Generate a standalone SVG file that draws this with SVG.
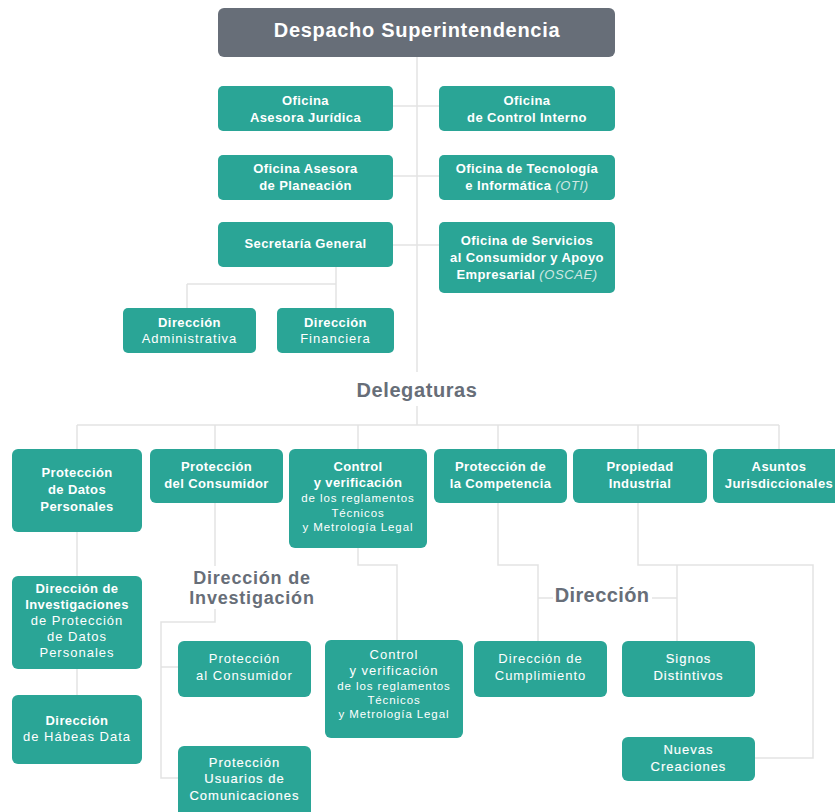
<svg xmlns="http://www.w3.org/2000/svg" width="835" height="812" viewBox="0 0 835 812">
<style>
.bg{fill:#ffffff}
.box{fill:#2aa596}
.top{fill:#676e78}
.ln{fill:none;stroke:#e3e3e3;stroke-width:1.5}
text{font-family:"Liberation Sans",Arial,sans-serif;fill:#ffffff;text-anchor:middle}
.b{font-size:13px;font-weight:700;letter-spacing:0.4px}
.r{font-size:13px;font-weight:400;letter-spacing:1px}
.rs{font-size:11.5px;font-weight:400;letter-spacing:0.9px}
.med{stroke:#ffffff;stroke-width:0.15px}
.it{font-style:italic;font-weight:400;fill:#cfe8e3;letter-spacing:0.6px}
.title{font-size:20px;font-weight:700;letter-spacing:0.7px}
.hd{font-size:20px;font-weight:700;fill:#676e78}
.hd2{font-size:18px;font-weight:700;fill:#676e78;letter-spacing:0.8px}
</style>
<rect class="bg" x="0" y="0" width="835" height="812"/>
<g id="connectors">
<path class="ln" d="M417 57V372M417 406V425"/>
<path class="ln" d="M393 106H439M393 176H439M393 245H439"/>
<path class="ln" d="M336 267V284M187 284H336M187 284V308M336 284V308"/>
<path class="ln" d="M77 425H779M77 425V449M215 425V449M358 425V449M498 425V449M638 425V449M779 425V449"/>
<path class="ln" d="M77 532V576M77 669V695"/>
<path class="ln" d="M215 503V566M215 609V622H161V778H178M161 667H178"/>
<path class="ln" d="M358 548V565H397V640"/>
<path class="ln" d="M498 503V565H538V641M538 598H553M652 598H677"/>
<path class="ln" d="M638 503V565H813V758H755M677 565V641"/>
</g>
<g id="despacho"><rect class="top" x="218" y="8" width="397" height="49" rx="6"/><text class="title" x="417" y="37">Despacho Superintendencia</text></g>
<g id="asesora-juridica"><rect class="box" x="218" y="86" width="175" height="45" rx="5"/><text class="b" x="305.5" y="105">Oficina</text><text class="b" x="305.5" y="122">Asesora Jurídica</text></g>
<g id="control-interno"><rect class="box" x="439" y="86" width="176" height="45" rx="5"/><text class="b" x="527" y="105">Oficina</text><text class="b" x="527" y="122">de Control Interno</text></g>
<g id="planeacion"><rect class="box" x="218" y="155" width="175" height="45" rx="5"/><text class="b" x="305.5" y="173">Oficina Asesora</text><text class="b" x="305.5" y="190">de Planeación</text></g>
<g id="tecnologia"><rect class="box" x="439" y="155" width="176" height="45" rx="5"/><text class="b" x="527" y="173">Oficina de Tecnología</text><text class="b" x="527" y="190">e Informática <tspan class="it">(OTI)</tspan></text></g>
<g id="secretaria"><rect class="box" x="218" y="222" width="175" height="45" rx="5"/><text class="b" x="305.5" y="248">Secretaría General</text></g>
<g id="servicios"><rect class="box" x="439" y="222" width="176" height="71" rx="5"/><text class="b" x="527" y="245">Oficina de Servicios</text><text class="b" x="527" y="262">al Consumidor y Apoyo</text><text class="b" x="527" y="279">Empresarial <tspan class="it">(OSCAE)</tspan></text></g>
<g id="dir-administrativa"><rect class="box" x="123" y="308" width="133" height="45" rx="5"/><text class="b" x="189.5" y="327">Dirección</text><text class="r" x="189.5" y="343">Administrativa</text></g>
<g id="dir-financiera"><rect class="box" x="277" y="308" width="117" height="45" rx="5"/><text class="b" x="335.5" y="327">Dirección</text><text class="r" x="335.5" y="343">Financiera</text></g>
<g id="delegaturas"><text class="hd" x="417" y="397" style="letter-spacing:0.6px">Delegaturas</text></g>
<g id="datos-personales"><rect class="box" x="12" y="449" width="130" height="83" rx="6"/><text class="b" x="77" y="477">Protección</text><text class="b" x="77" y="494">de Datos</text><text class="b" x="77" y="511">Personales</text></g>
<g id="consumidor"><rect class="box" x="150" y="449" width="133" height="54" rx="6"/><text class="b" x="216.5" y="471">Protección</text><text class="b" x="216.5" y="488">del Consumidor</text></g>
<g id="control"><rect class="box" x="289" y="449" width="138" height="99" rx="6"/><text class="b" x="358" y="471">Control</text><text class="b" x="358" y="487">y verificación</text><text class="rs" x="358" y="502">de los reglamentos</text><text class="rs" x="358" y="517">Técnicos</text><text class="rs" x="358" y="531">y Metrología Legal</text></g>
<g id="competencia"><rect class="box" x="434" y="449" width="133" height="54" rx="6"/><text class="b" x="500.5" y="471">Protección de</text><text class="b" x="500.5" y="488">la Competencia</text></g>
<g id="propiedad"><rect class="box" x="573" y="449" width="134" height="54" rx="6"/><text class="b" x="640" y="471">Propiedad</text><text class="b" x="640" y="488">Industrial</text></g>
<g id="jurisdiccionales"><rect class="box" x="713" y="449" width="132" height="54" rx="6"/><text class="b" x="779" y="471">Asuntos</text><text class="b" x="779" y="488">Jurisdiccionales</text></g>
<g id="dir-investigaciones"><rect class="box" x="12" y="576" width="130" height="93" rx="6"/><text class="b" x="77" y="593">Dirección de</text><text class="b" x="77" y="609">Investigaciones</text><text class="r" x="77" y="625">de Protección</text><text class="r" x="77" y="641">de Datos</text><text class="r" x="77" y="657">Personales</text></g>
<g id="habeas"><rect class="box" x="12" y="695" width="130" height="69" rx="6"/><text class="b" x="77" y="725">Dirección</text><text class="r" x="77" y="741">de Hábeas Data</text></g>
<g id="dir-investigacion-label"><text class="hd2" x="252" y="584">Dirección de</text><text class="hd2" x="252" y="604">Investigación</text></g>
<g id="proteccion-al-consumidor"><rect class="box" x="178" y="641" width="133" height="56" rx="6"/><text class="r" x="244.5" y="663">Protección</text><text class="r" x="244.5" y="680">al Consumidor</text></g>
<g id="usuarios-comunicaciones"><rect class="box" x="178" y="746" width="133" height="72" rx="6"/><text class="r med" x="244.5" y="767">Protección</text><text class="r med" x="244.5" y="783">Usuarios de</text><text class="r med" x="244.5" y="800">Comunicaciones</text></g>
<g id="control-2"><rect class="box" x="325" y="640" width="138" height="98" rx="6"/><text class="r" x="394" y="659">Control</text><text class="r" x="394" y="675">y verificación</text><text class="rs" x="394" y="690">de los reglamentos</text><text class="rs" x="394" y="704">Técnicos</text><text class="rs" x="394" y="718">y Metrología Legal</text></g>
<g id="cumplimiento"><rect class="box" x="474" y="641" width="133" height="56" rx="6"/><text class="r" x="540.5" y="663">Dirección de</text><text class="r" x="540.5" y="680">Cumplimiento</text></g>
<g id="direccion-label"><text class="hd" x="602" y="602" style="letter-spacing:0.4px">Dirección</text></g>
<g id="signos"><rect class="box" x="622" y="641" width="133" height="56" rx="6"/><text class="r med" x="688.5" y="663">Signos</text><text class="r med" x="688.5" y="680">Distintivos</text></g>
<g id="nuevas"><rect class="box" x="622" y="737" width="133" height="44" rx="6"/><text class="r med" x="688.5" y="754">Nuevas</text><text class="r med" x="688.5" y="771">Creaciones</text></g>
</svg>
